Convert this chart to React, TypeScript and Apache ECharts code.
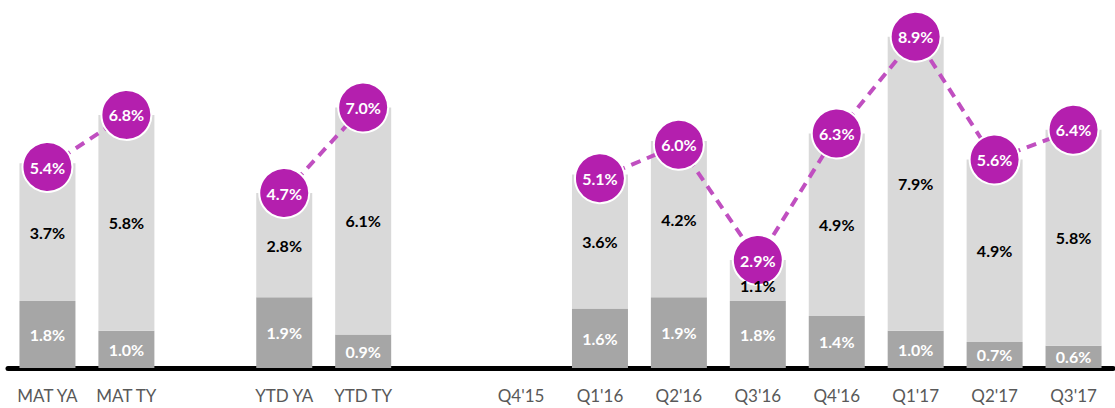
import React, { useEffect, useRef } from "react";
import * as echarts from "echarts";

const categories = ["MAT YA", "MAT TY", "", "YTD YA", "YTD TY", "", "Q4'15", "Q1'16", "Q2'16", "Q3'16", "Q4'16", "Q1'17", "Q2'17", "Q3'17"];
const baseValues = [1.8, 1.0, null, 1.9, 0.9, null, null, 1.6, 1.9, 1.8, 1.4, 1.0, 0.7, 0.6];
const topValues = [3.7, 5.8, null, 2.8, 6.1, null, null, 3.6, 4.2, 1.1, 4.9, 7.9, 4.9, 5.8];
const totalValues = [5.4, 6.8, null, 4.7, 7.0, null, null, 5.1, 6.0, 2.9, 6.3, 8.9, 5.6, 6.4];

const FONT = "Lato, 'Open Sans', sans-serif";

export default function App() {
  const ref = useRef<HTMLDivElement>(null);
  useEffect(() => {
    if (!ref.current) return;
    const chart = echarts.init(ref.current, undefined, { renderer: "svg" });
    const fmt = (p: any) => (p.value == null ? "" : Number(p.value).toFixed(1) + "%");
    const midData = topValues.map((v, i) => {
      if (v == null) return null;
      const b = baseValues[i] ?? 0;
      const item: any = { value: b + v / 2, label: { formatter: v.toFixed(1) + "%" } };
      if (v < 1.5) item.label.offset = [0, 5];
      return item;
    });
    chart.setOption({
      animation: false,
      grid: { left: 8, right: 2, top: 33, bottom: 40 },
      xAxis: {
        type: "category",
        data: categories,
        offset: 2,
        axisLine: { show: true, lineStyle: { color: "#000", width: 5 } },
        axisTick: { show: false },
        axisLabel: { color: "#595959", fontSize: 17, fontFamily: FONT, margin: 17, interval: 0 },
      },
      yAxis: { type: "value", min: 0, max: 9, show: false, splitLine: { show: false } },
      series: [
        {
          type: "bar",
          stack: "s",
          z: 2,
          data: baseValues,
          barWidth: 56,
          itemStyle: { color: "#A6A6A6" },
          label: { show: true, position: "inside", color: "#fff", fontWeight: "bold", fontSize: 16, fontFamily: FONT, formatter: fmt },
        },
        {
          type: "bar",
          stack: "s",
          z: 2,
          data: topValues,
          barWidth: 56,
          itemStyle: { color: "#D9D9D9" },
          label: { show: false },
        },
        {
          type: "line",
          data: totalValues,
          connectNulls: false,
          z: 3,
          symbol: "circle",
          symbolSize: 50,
          lineStyle: { color: "#C04FC0", width: 4, type: [10, 7] },
          itemStyle: { color: "#B41FAE", borderColor: "#fff", borderWidth: 2 },
          label: { show: true, position: "inside", color: "#fff", fontWeight: "bold", fontSize: 16, fontFamily: FONT, formatter: fmt },
        },
        {
          type: "scatter",
          data: midData,
          z: 10,
          symbolSize: 1,
          itemStyle: { color: "rgba(0,0,0,0)", opacity: 1 },
          silent: true,
          label: { show: true, position: "inside", color: "#000", opacity: 1, fontWeight: "bold", fontSize: 16, fontFamily: FONT },
        },
      ],
    });
    return () => chart.dispose();
  }, []);
  return <div ref={ref} style={{ position: "absolute", left: 0, top: 0, width: 1115, height: 408 }} />;
}
